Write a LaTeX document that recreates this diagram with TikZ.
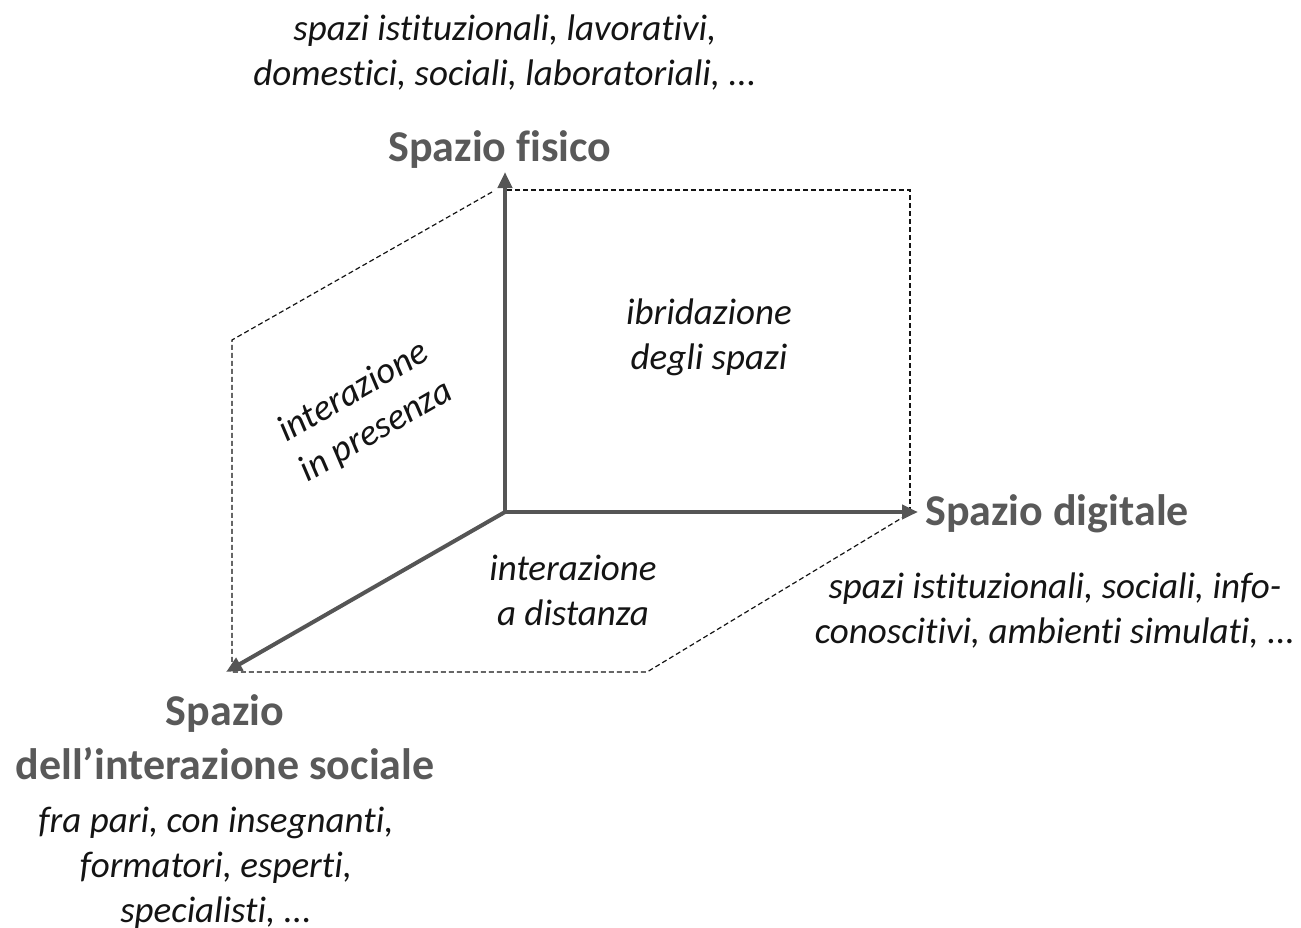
\documentclass[tikz,border=0pt]{standalone}
\usepackage{fontspec}
\setmainfont{Carlito}[Ligatures=NoCommon]
\usetikzlibrary{arrows.meta,positioning}
\definecolor{ink}{RGB}{20,20,20}
\definecolor{axisgray}{RGB}{85,85,85}
\definecolor{headgray}{RGB}{89,89,89}
\tikzset{
  every picture/.style={color=ink, x=1pt, y=-1pt},
  axis/.style={draw=axisgray, line width=4pt, -{Triangle[length=16pt,width=14pt]}},
  plane/.style={draw=ink, line width=1.2pt, dash pattern=on 5pt off 3pt},
  head/.style={font=\fontsize{44}{54}\selectfont\bfseries, text=headgray, inner sep=0pt, align=center},
  desc/.style={font=\fontsize{37}{45}\selectfont\itshape, text=ink, inner sep=0pt, align=center},
  zone/.style={desc},
}
\begin{document}
\begin{tikzpicture}
  \useasboundingbox (0,0) rectangle (1301,927);
  % axes
  \coordinate (O) at (505,512);
  \coordinate (fis) at (505,172);
  \coordinate (dig) at (918,512);
  \coordinate (soc) at (226,672);
  % planes
  \coordinate (pt) at (507,190);
  \coordinate (pr) at (910,190);
  \coordinate (pb) at (910,512);
  \coordinate (lt) at (492,192);
  \coordinate (ll) at (232,340);
  \coordinate (lb) at (232,672);
  \coordinate (br) at (647,672);
  \coordinate (be) at (905,516);
  \draw[plane] (pt) -- (pr) -- (pb);
  \draw[plane] (lt) -- (ll) -- (lb) -- (br) -- (be);
  \draw[axis] (O) -- (fis);
  \draw[axis] (O) -- (dig);
  \draw[axis] (O) -- (soc);
  % labels
  \node[desc] (fisdesc) at (505,53) {spazi istituzionali, lavorativi,\\ domestici, sociali, laboratoriali, ...};
  \node[head, anchor=base] (fishead) at (500,161) {Spazio fisico};
  \node[head, anchor=base west] (dighead) at (925,525) {Spazio digitale};
  \node[desc] (digdesc) at (1055,611) {spazi istituzionali, sociali, info-\\ conoscitivi, ambienti simulati, ...};
  \node[head] (sochead) at (225,737) {Spazio\\ dell’interazione sociale};
  \node[desc] (socdesc) at (216,868) {fra pari, con insegnanti,\\ formatori, esperti,\\ specialisti, ...};
  \node[zone] (ibrido) at (709,337) {ibridazione\\ degli spazi};
  \node[zone] (distanza) at (573,590) {interazione\\ a distanza};
  \node[zone, rotate=30] (presenza) at (365,412) {interazione\\ in presenza};
\end{tikzpicture}
\end{document}
